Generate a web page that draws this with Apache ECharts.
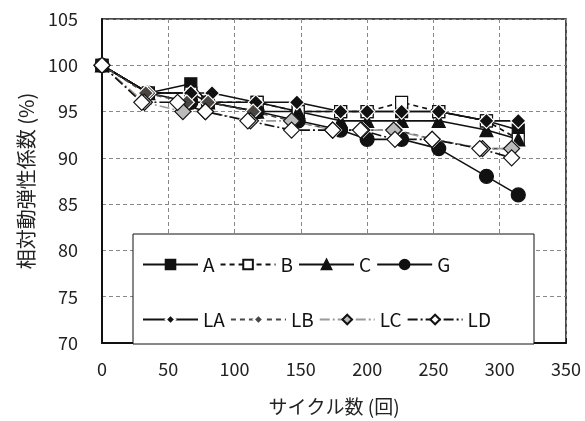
<!DOCTYPE html>
<html>
<head>
<meta charset="utf-8">
<script src="https://cdn.jsdelivr.net/npm/echarts@6/dist/echarts.min.js"></script>
<style>html,body{margin:0;padding:0;background:#fff}#c{width:585px;height:421px}</style>
</head>
<body>
<div id="c"></div>
<script>
const FONT = '"Noto Sans CJK JP", "Noto Sans", sans-serif';
const xTicks = [0, 50, 100, 150, 200, 250, 300, 350];
const yTicks = [70, 75, 80, 85, 90, 95, 100, 105];
const seriesNames = ['A', 'B', 'C', 'G', 'LA', 'LB', 'LC', 'LD'];

const dataA  = [[0,100],[35,97],[67,98],[80,96],[117,96],[148,95],[180,95],[200,95],[226,95],[254,95],[290,94],[314,93]];
const dataB  = [[0,100],[35,97],[67,97],[80,96],[117,96],[148,95],[180,95],[200,95],[226,96],[254,95],[290,94],[314,92]];
const dataC  = [[0,100],[35,97],[67,97],[80,96],[117,95],[148,95],[180,94],[200,94],[226,94],[254,94],[290,93],[314,92]];
const dataG  = [[0,100],[35,97],[67,96],[80,96],[117,95],[148,94],[180,93],[200,92],[226,92],[254,91],[290,88],[314,86]];
const dataLA = [[0,100],[35,97],[67,97],[83,97],[116,96],[147,96],[180,95],[200,95],[226,95],[254,95],[290,94],[314,94]];
const dataLB = [[0,100],[33,97],[64,96],[80,96],[114,95],[143,94],[175,93],[197,93],[222,93],[250,92],[287,91],[310,91]];
const dataLC = [[0,100],[32,96],[61,95],[78,95],[112,94],[143,94],[174,93],[196,93],[220,93],[249,92],[287,91],[309,91]];
const dataLD = [[0,100],[30,96],[57,96],[78,95],[110,94],[143,93],[174,93],[195,93],[221,92],[249,92],[285,91],[309,90]];

function mk(name, data, symbol, size, fill, border, lineColor, lineType, lineWidth) {
  return {
    name: name, type: 'line', data: data, symbol: symbol, symbolSize: size,
    itemStyle: { color: fill, borderColor: border, borderWidth: 1.2 },
    lineStyle: { color: lineColor, type: lineType, width: lineWidth },
    emphasis: { disabled: true }
  };
}

const series = [
  mk('A',  dataA,  'rect',     12, '#111', '#111', '#111', 'solid', 1.6),
  mk('B',  dataB,  'rect',     12, '#fff', '#111', '#111', [5, 4], 1.6),
  mk('C',  dataC,  'triangle', 13, '#111', '#111', '#111', 'solid', 1.6),
  mk('G',  dataG,  'circle',   14, '#111', '#111', '#111', 'solid', 1.6),
  mk('LA', dataLA, 'diamond',  15, '#111', '#fff', '#111', 'solid', 1.6),
  mk('LB', dataLB, 'diamond',  15, '#4a4540', '#fff', '#4a4540', [5, 4], 1.6),
  mk('LC', dataLC, 'diamond',  16, '#bbbbbb', '#111', '#999', [10, 3, 2, 3], 1.6),
  mk('LD', dataLD, 'diamond',  16, '#fff', '#111', '#111', [10, 3, 2, 3], 1.6)
];

const legendCommon = {
  itemWidth: 55, itemHeight: 12, itemGap: 5, left: 142, orient: 'horizontal', padding: 0,
  textStyle: { fontFamily: FONT, fontSize: 19, color: '#111', width: 35 },
  selectedMode: false
};

const option = {
  animation: false,
  backgroundColor: '#fff',
  grid: { left: 102, right: 19, top: 19, bottom: 67, show: true, borderColor: '#111', borderWidth: 1.5, backgroundColor: 'transparent' },
  xAxis: {
    type: 'value', min: xTicks[0], max: xTicks[xTicks.length - 1], interval: 50,
    name: 'サイクル数 (回)', nameLocation: 'middle', nameGap: 54,
    nameTextStyle: { fontFamily: FONT, fontSize: 19, color: '#222' },
    axisLine: { lineStyle: { color: '#111', width: 2 } },
    axisTick: { show: true, inside: true, length: 5, lineStyle: { color: '#111' } },
    axisLabel: { fontFamily: FONT, fontSize: 18, color: '#222', margin: 17 },
    splitLine: { show: true, lineStyle: { color: '#888', type: [4, 3], width: 1 } }
  },
  yAxis: {
    type: 'value', min: yTicks[0], max: yTicks[yTicks.length - 1], interval: 5,
    name: '相対動弾性係数 (%)', nameLocation: 'middle', nameGap: 66, nameRotate: 90,
    nameTextStyle: { fontFamily: FONT, fontSize: 20, color: '#222' },
    axisLine: { lineStyle: { color: '#111', width: 2 } },
    axisTick: { show: false },
    axisLabel: { fontFamily: FONT, fontSize: 18, color: '#222', margin: 24 },
    splitLine: { show: true, lineStyle: { color: '#888', type: [4, 3], width: 1 } }
  },
  legend: [
    Object.assign({}, legendCommon, { top: 255, data: seriesNames.slice(0, 4) }),
    Object.assign({}, legendCommon, { top: 310, data: seriesNames.slice(4, 8) })
  ],
  graphic: [{
    type: 'rect', z: 3, silent: true,
    shape: { x: 133, y: 234, width: 401, height: 110 },
    style: { fill: '#fff', stroke: '#111', lineWidth: 1 }
  }],
  series: series
};

const chart = echarts.init(document.getElementById('c'), null, { renderer: 'canvas' });
chart.setOption(option);
</script>
</body>
</html>
